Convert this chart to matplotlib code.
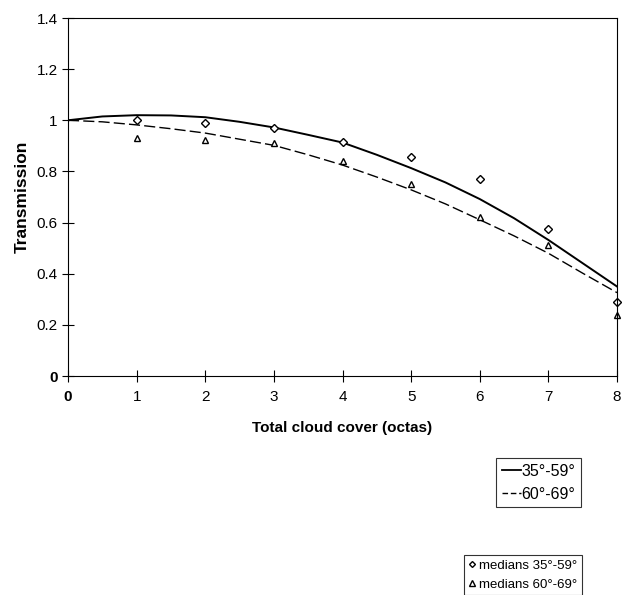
import numpy as np
import matplotlib.pyplot as plt
from matplotlib.lines import Line2D

plt.rcParams['font.family'] = ['Liberation Sans', 'DejaVu Sans']

# fitted curves, read every half octa
octas = [0, 0.5, 1, 1.5, 2, 2.5, 3, 3.5, 4, 4.5, 5, 5.5, 6, 6.5, 7, 7.5, 8]
fit_35_59 = [1.0, 1.015, 1.020, 1.019, 1.012, 0.994, 0.972, 0.943, 0.913,
             0.865, 0.813, 0.757, 0.692, 0.617, 0.532, 0.441, 0.350]
fit_60_69 = [1.0, 0.994, 0.982, 0.967, 0.950, 0.926, 0.902, 0.865, 0.825,
             0.778, 0.728, 0.673, 0.611, 0.548, 0.480, 0.402, 0.326]

med_x = [1, 2, 3, 4, 5, 6, 7, 8]
med_35_59 = [1.00, 0.989, 0.969, 0.916, 0.857, 0.771, 0.575, 0.290]
med_60_69 = [0.930, 0.921, 0.912, 0.842, 0.750, 0.622, 0.511, 0.239]

fig = plt.figure(figsize=(6.26, 5.95), dpi=100)
ax = fig.add_axes([68/626, 219/595, 549/626, 358/595])

ax.plot(octas, fit_35_59, color='black', lw=1.4, ls='-')
ax.plot(octas, fit_60_69, color='black', lw=1.0, ls=(0, (8, 3)))
ax.plot(med_x, med_35_59, ls='none', marker='D', ms=4, mfc='white', mec='black', mew=1.0, clip_on=False)
ax.plot(med_x, med_60_69, ls='none', marker='^', ms=5, mfc='white', mec='black', mew=1.0, clip_on=False)

ax.set_xlim(0, 8)
ax.set_ylim(0, 1.4)
ax.set_xticks(range(0, 9))
ax.set_yticks([0, 0.2, 0.4, 0.6, 0.8, 1.0, 1.2, 1.4])
ax.set_yticklabels(['0', '0.2', '0.4', '0.6', '0.8', '1', '1.2', '1.4'])
ax.tick_params(axis='x', direction='inout', length=8, width=0.8, labelsize=11, pad=6)
ax.tick_params(axis='y', direction='inout', length=8, width=0.8, labelsize=11)
ax.get_xticklabels()[0].set_fontweight('bold')
ax.get_yticklabels()[0].set_fontweight('bold')
for s in ax.spines.values():
    s.set_linewidth(0.8)

ax.set_xlabel('Total cloud cover (octas)', fontsize=11, fontweight='bold', labelpad=12)
ax.set_ylabel('Transmission', fontsize=12.5, fontweight='bold', labelpad=5)

h1 = [Line2D([], [], color='black', lw=1.3, ls='-'),
      Line2D([], [], color='black', lw=1.0, ls=(0, (4, 2)))]
leg1 = fig.legend(h1, ['35°-59°', '60°-69°'], loc='upper right',
                  bbox_to_anchor=(581/626, 1 - 458/595), fontsize=11.5,
                  frameon=True, fancybox=False, edgecolor='black',
                  handlelength=1.2, handletextpad=0.05, borderpad=0.35,
                  labelspacing=0.5, borderaxespad=0)
leg1.get_frame().set_linewidth(0.8)

h2 = [Line2D([], [], ls='none', marker='D', ms=3, mfc='white', mec='black'),
      Line2D([], [], ls='none', marker='^', ms=4, mfc='white', mec='black')]
leg2 = fig.legend(h2, ['medians 35°-59°', 'medians 60°-69°'], loc='upper right',
                  bbox_to_anchor=(582/626, 1 - 555/595), fontsize=9.5,
                  frameon=True, fancybox=False, edgecolor='black',
                  handlelength=0.5, handletextpad=0.3, borderpad=0.35,
                  labelspacing=0.5, borderaxespad=0)
leg2.get_frame().set_linewidth(0.8)

fig.savefig('out.png', dpi=100)
